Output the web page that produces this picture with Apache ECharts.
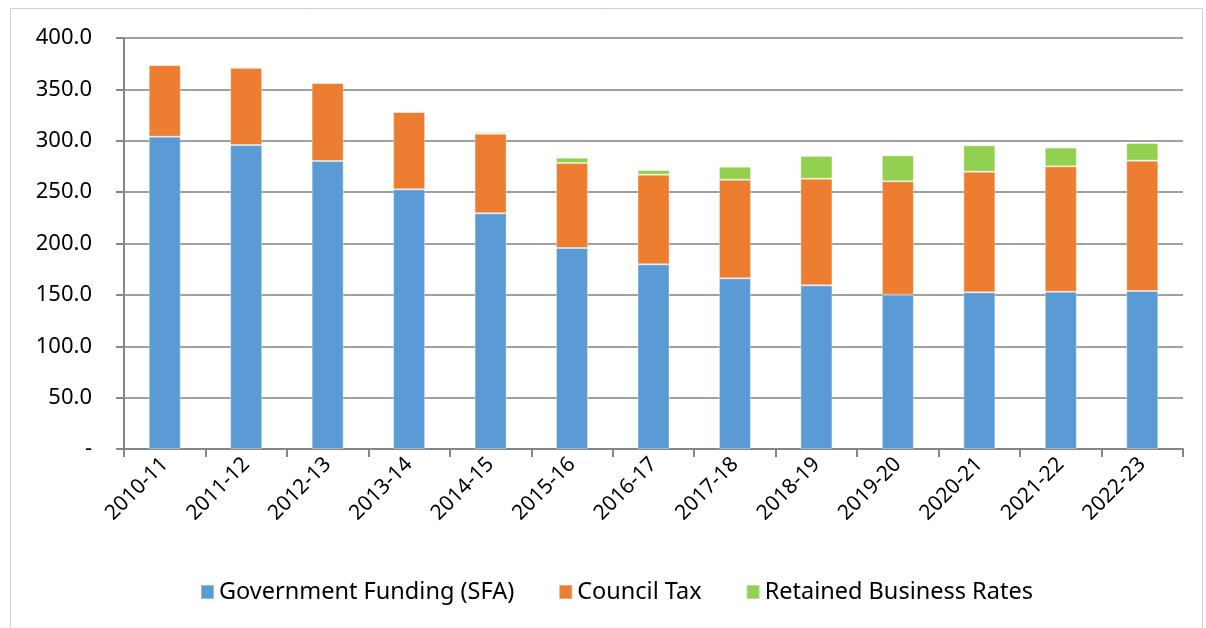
<!DOCTYPE html>
<html>
<head>
<meta charset="utf-8">
<title>Funding</title>
<script src="https://cdn.jsdelivr.net/npm/echarts@6/dist/echarts.min.js"></script>
<style>
html, body { margin: 0; padding: 0; background: #fff; }
#chart { width: 1206px; height: 628px; }
</style>
</head>
<body>
<div id="chart"></div>
<script>
// 年份
var years = ['2010-11', '2011-12', '2012-13', '2013-14', '2014-15', '2015-16', '2016-17',
	'2017-18', '2018-19', '2019-20', '2020-21', '2021-22', '2022-23'];
// 各项数值
var sfa = [304.0, 295.9, 280.3, 252.7, 229.4, 195.6, 179.7, 166.1, 159.3, 150.2, 152.5, 153.1, 153.8];
var councilTax = [69.7, 75.1, 75.9, 75.3, 77.5, 82.7, 87.3, 95.9, 103.8, 110.3, 117.4, 122.0, 126.8];
var businessRates = [0, 0, 0, 0, 1.6, 5.2, 4.5, 12.7, 22.1, 25.3, 25.6, 18.2, 17.2];
var seriesNames = ['Government Funding (SFA)', 'Council Tax', 'Retained Business Rates'];
var colors = ['#5B9BD5', '#ED7D31', '#92D050'];

var font = '"Noto Sans", sans-serif';
var myChart = echarts.init(document.getElementById('chart'));

function barSeries(name, data, color) {
	return {
		name: name,
		type: 'bar',
		stack: 'total',
		data: data,
		barWidth: 32,
		itemStyle: {
			color: color,
			borderColor: 'rgba(255,255,255,0.35)',
			borderWidth: 1
		}
	};
}

var option = {
	animation: false,
	color: colors,
	textStyle: { fontFamily: font },
	graphic: [{
		type: 'rect',
		shape: { x: 10.5, y: 8.5, width: 1192, height: 640 },
		style: { fill: 'none', stroke: '#d0d0d0', lineWidth: 1 },
		silent: true
	}],
	grid: {
		left: 124,
		right: 23,
		top: 38,
		bottom: 179
	},
	legend: {
		left: 195,
		bottom: 19,
		itemWidth: 13,
		itemHeight: 14,
		itemGap: 44,
		icon: 'rect',
		textStyle: { fontSize: 23.5, color: '#000', fontFamily: font },
		data: seriesNames
	},
	xAxis: {
		type: 'category',
		data: years,
		axisLine: { lineStyle: { color: '#868686', width: 2 } },
		axisTick: { show: true, length: 8, lineStyle: { color: '#868686', width: 2 } },
		axisLabel: {
			rotate: 45,
			fontSize: 21,
			color: '#000',
			margin: 12,
			interval: 0
		}
	},
	yAxis: {
		type: 'value',
		min: 0,
		max: 400,
		interval: 50,
		axisLine: { show: true, lineStyle: { color: '#868686', width: 2 } },
		axisTick: { show: true, length: 8, lineStyle: { color: '#868686', width: 2 } },
		splitLine: { lineStyle: { color: '#a0a0a0', width: 2 } },
		axisLabel: {
			fontSize: 22,
			color: '#000',
			margin: 32,
			formatter: function (v) { return v === 0 ? '-' : v.toFixed(1); }
		}
	},
	series: [
		barSeries(seriesNames[0], sfa, colors[0]),
		barSeries(seriesNames[1], councilTax, colors[1]),
		barSeries(seriesNames[2], businessRates, colors[2])
	]
};

myChart.setOption(option);
</script>
</body>
</html>
